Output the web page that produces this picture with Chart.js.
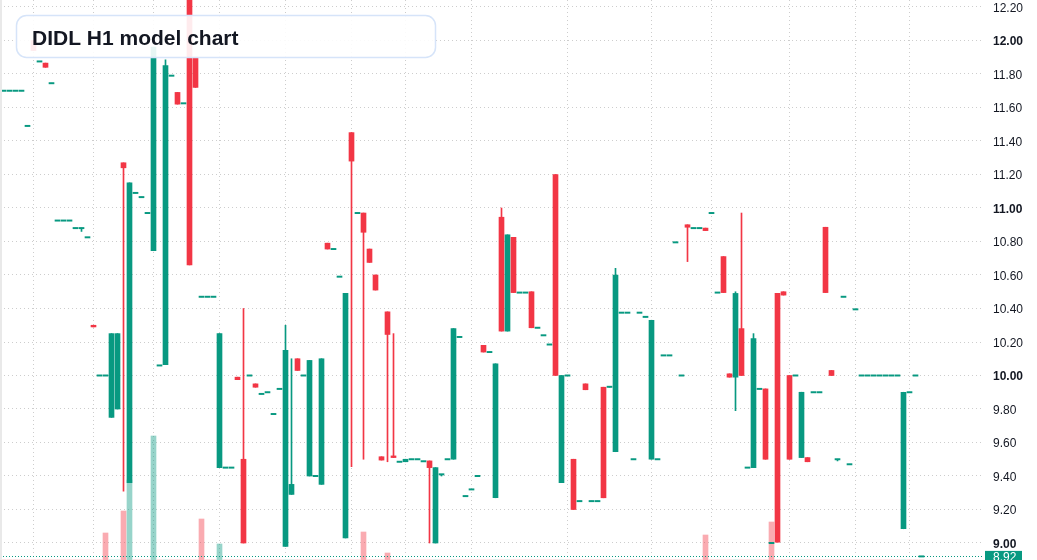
<!DOCTYPE html>
<html>
<head>
<meta charset="utf-8">
<script src="https://cdn.jsdelivr.net/npm/chart.js@4.4.1/dist/chart.umd.min.js"></script>
<style>
html,body{margin:0;padding:0;background:#fff;overflow:hidden}
#wrap{position:relative;width:1037px;height:560px}
</style>
</head>
<body>
<div id="wrap"><canvas id="c"></canvas></div>
<script>
// ---------- data ----------
const chartTitle = 'DIDL H1 model chart';

const openP = [
 11.70,11.70,11.70,11.70,11.49,12.00,11.875,11.865,11.745,10.925,
 10.925,10.925,10.88,10.88,10.825,10.30,10.00,10.00,9.75,9.80,
 11.27,9.36,11.09,11.065,10.97,10.745,10.06,10.065,11.79,11.69,
 11.625,12.30,11.90,10.47,10.47,10.47,9.45,9.45,9.45,9.99,
 9.50,10.00,9.95,9.89,9.90,9.77,9.92,8.98,9.29,10.10,
 10.00,9.40,9.40,9.35,10.79,10.755,10.59,9.03,11.45,10.97,
 10.97,10.755,10.60,9.515,10.38,9.52,9.485,9.485,9.50,9.50,
 9.488,9.49,9.00,9.41,9.50,9.50,10.23,9.28,9.32,9.40,
 10.18,10.14,9.27,10.945,10.265,10.825,10.495,10.495,10.50,10.285,
 10.24,10.185,11.20,9.36,10.00,9.50,9.25,9.95,9.25,9.25,
 9.93,9.93,9.545,10.375,10.375,9.50,10.375,10.35,9.50,9.50,
 10.12,10.12,10.795,10.00,10.90,10.88,10.88,10.88,10.97,10.495,
 10.71,10.01,9.99,10.28,9.45,9.45,9.92,9.92,9.00,10.49,
 10.50,10.00,10.00,9.51,9.51,9.90,9.90,10.885,10.03,9.50,
 10.47,9.47,10.395,10.00,10.00,10.00,10.00,10.00,10.00,10.00,
 9.085,9.90,10.00,8.92
];
const highP = [
 11.70,11.70,11.70,11.70,11.49,12.00,11.875,11.865,11.745,10.925,
 10.925,10.925,10.88,10.88,10.825,10.30,10.00,10.00,10.25,10.25,
 11.27,11.15,11.09,11.065,10.97,11.96,10.06,11.885,11.79,11.69,
 11.625,12.30,11.90,10.47,10.47,10.47,10.25,9.45,9.45,9.99,
 10.40,10.00,9.95,9.89,9.90,9.77,9.92,10.30,10.10,10.10,
 10.00,10.09,9.40,10.10,10.79,10.755,10.59,10.49,11.45,10.97,
 10.97,10.755,10.60,9.515,10.38,10.25,9.485,9.50,9.50,9.50,
 9.488,9.49,9.45,9.41,9.50,10.28,10.23,9.28,9.32,9.40,
 10.18,10.14,10.07,11.00,10.84,10.825,10.495,10.495,10.50,10.285,
 10.24,10.185,11.20,10.00,10.00,9.50,9.25,9.95,9.25,9.25,
 9.93,9.935,10.64,10.375,10.375,9.50,10.375,10.35,10.33,9.50,
 10.12,10.12,10.795,10.00,10.90,10.88,10.88,10.88,10.97,10.495,
 10.71,10.01,10.50,10.97,9.45,10.25,9.92,9.92,9.00,10.49,
 10.50,10.00,10.00,9.90,9.51,9.90,9.90,10.885,10.03,9.50,
 10.47,9.47,10.395,10.00,10.00,10.00,10.00,10.00,10.00,10.00,
 9.90,9.90,10.00,8.92
];
const lowP = [
 11.70,11.70,11.70,11.70,11.49,11.94,11.875,11.84,11.745,10.925,
 10.925,10.925,10.88,10.86,10.825,10.29,10.00,10.00,9.75,9.80,
 9.31,9.36,11.09,11.065,10.97,10.745,10.06,10.065,11.79,11.62,
 11.625,10.66,11.72,10.47,10.47,10.47,9.45,9.45,9.45,9.975,
 9.00,10.00,9.93,9.89,9.90,9.77,9.92,8.98,9.29,10.03,
 10.00,9.40,9.40,9.35,10.755,10.755,10.59,9.03,9.455,10.97,
 9.50,10.675,10.51,9.495,9.485,9.51,9.485,9.485,9.50,9.50,
 9.488,9.00,9.00,9.40,9.50,9.50,10.23,9.28,9.32,9.40,
 10.14,10.14,9.27,10.265,10.265,10.495,10.495,10.495,10.285,10.285,
 10.24,10.185,10.00,9.36,10.00,9.20,9.25,9.915,9.25,9.25,
 9.27,9.93,9.545,10.375,10.375,9.50,10.375,10.35,9.50,9.50,
 10.12,10.12,10.795,10.00,10.68,10.88,10.88,10.865,10.97,10.495,
 10.495,9.99,9.79,10.00,9.45,9.45,9.92,9.50,9.00,9.005,
 10.48,9.50,10.00,9.51,9.485,9.90,9.90,10.495,10.00,9.49,
 10.47,9.47,10.395,10.00,10.00,10.00,10.00,10.00,10.00,10.00,
 9.085,9.90,10.00,8.92
];
const closeP = [
 11.70,11.70,11.70,11.70,11.49,11.94,11.875,11.84,11.745,10.925,
 10.925,10.925,10.88,10.88,10.825,10.29,10.00,10.00,10.25,10.25,
 11.24,11.15,11.09,11.065,10.97,11.96,10.06,11.85,11.79,11.62,
 11.625,10.66,11.72,10.47,10.47,10.47,10.25,9.45,9.45,9.975,
 9.00,10.00,9.93,9.89,9.90,9.77,9.92,10.15,9.35,10.03,
 10.00,10.09,9.40,10.10,10.755,10.755,10.59,10.49,11.28,10.97,
 10.855,10.675,10.51,9.495,10.245,9.51,9.485,9.50,9.50,9.50,
 9.488,9.45,9.45,9.41,9.50,10.28,10.23,9.28,9.32,9.40,
 10.14,10.14,10.07,10.265,10.84,10.495,10.495,10.495,10.285,10.285,
 10.24,10.185,10.00,10.00,10.00,9.20,9.25,9.915,9.25,9.25,
 9.27,9.935,10.60,10.375,10.375,9.50,10.375,10.35,10.33,9.50,
 10.12,10.12,10.795,10.00,10.885,10.88,10.88,10.865,10.97,10.495,
 10.495,9.99,10.49,10.00,9.45,10.22,9.92,9.50,9.00,9.005,
 10.48,9.50,10.00,9.90,9.485,9.90,9.90,10.495,10.00,9.50,
 10.47,9.47,10.395,10.00,10.00,10.00,10.00,10.00,10.00,10.00,
 9.90,9.90,10.00,8.92
];
const volumeK = [
 0,0,0,0,0,0,0,0,0,0,
 0,0,0,0,0,0,0,27,0,0,
 49,80,0,0,0,124,0,0,0,0,
 0,0,0,41,0,0,16,0,0,0,
 0,0,0,0,0,0,0,0,0,0,
 0,0,0,0,0,0,0,0,0,0,
 28,0,0,0,7,0,0,0,0,0,
 0,0,0,0,0,0,0,0,0,0,
 0,0,0,0,0,0,0,0,0,0,
 0,0,0,0,0,0,0,0,0,0,
 0,0,0,0,0,0,0,0,0,0,
 0,0,0,0,0,0,0,25,0,0,
 0,0,0,0,0,0,0,0,38,0,
 0,0,0,0,0,0,0,0,0,0,
 0,0,0,0,0,0,0,0,0,0,
 0,0,0,0
];
const sessionBreaks = [5,15,25,36,47,58,67,78,94,108,118,131,142,151];
const priceTicks = ['9.00','9.20','9.40','9.60','9.80','10.00','10.20','10.40','10.60','10.80','11.00','11.20','11.40','11.60','11.80','12.00','12.20'];
const lastPrice = 8.92;
const lastPriceLabel = '8.92';

// ---------- styling ----------
const UP = '#089981', DOWN = '#f23645';
const UP_VOL = 'rgba(8,153,129,0.42)', DOWN_VOL = 'rgba(242,54,69,0.42)';
const FONT = '"Liberation Sans", Arial, sans-serif';
const AXIS_W = 54;
const CANVAS_W = 1037, CANVAS_H = 560;
const BAR_PX = 6;
const MIN_BODY_PX = 1.3;

const idx = closeP.map((_, i) => i);
const candleColor = idx.map(i => closeP[i] >= openP[i] ? UP : DOWN);
const volColor = idx.map(i => closeP[i] > openP[i] ? UP_VOL : DOWN_VOL);

const plotW = CANVAS_W - AXIS_W;
const xMin = -3.5 / BAR_PX;
const xMax = xMin + plotW / BAR_PX;
const pxPerUnit = 167.5;
const yMax = 12.2 + 7 / pxPerUnit;
const yMin = yMax - CANVAS_H / pxPerUnit;

// body range; very thin bodies are drawn as a centred 1.3px dash
function bodyRange(i) {
  const lo = Math.min(openP[i], closeP[i]);
  const hi = Math.max(openP[i], closeP[i]);
  const minSpan = MIN_BODY_PX / pxPerUnit;
  if (hi - lo >= minSpan) return [lo, hi];
  const mid = (lo + hi) / 2;
  return [mid - minSpan / 2, mid + minSpan / 2];
}

const overlay = {
  id: 'overlay',
  afterDatasetsDraw(chart) {
    const {ctx, chartArea: a, scales: {y}} = chart;
    const py = Math.round(y.getPixelForValue(lastPrice)) + 0.5;
    ctx.save();
    ctx.strokeStyle = UP;
    ctx.lineWidth = 1;
    ctx.setLineDash([1, 2]);
    ctx.beginPath();
    ctx.moveTo(a.left, py);
    ctx.lineTo(a.right, py);
    ctx.stroke();
    ctx.restore();
  },
  afterDraw(chart) {
    const {ctx, chartArea: a, scales: {y}} = chart;
    const py = y.getPixelForValue(lastPrice);
    ctx.save();
    // left edge strip
    ctx.fillStyle = '#e9e9e9';
    ctx.fillRect(0, 0, 2, CANVAS_H);
    // last price tag
    ctx.fillStyle = UP;
    ctx.fillRect(a.right + 2, py - 5.5, 37, 15);
    ctx.fillStyle = '#ffffff';
    ctx.font = '12px ' + FONT;
    ctx.textAlign = 'left';
    ctx.textBaseline = 'middle';
    ctx.fillText(lastPriceLabel, a.right + 10, py + 1.5);
    // title box
    ctx.beginPath();
    ctx.roundRect(16.5, 15.5, 419, 42, 10);
    ctx.fillStyle = 'rgba(255,255,255,0.9)';
    ctx.fill();
    ctx.lineWidth = 1.5;
    ctx.strokeStyle = '#d6e4f9';
    ctx.stroke();
    ctx.fillStyle = '#131722';
    ctx.font = 'bold 21px ' + FONT;
    ctx.textBaseline = 'alphabetic';
    ctx.fillText(chartTitle, 32, 45);
    ctx.restore();
  }
};

const canvas = document.getElementById('c');
canvas.width = CANVAS_W; canvas.height = CANVAS_H;
canvas.style.width = CANVAS_W + 'px'; canvas.style.height = CANVAS_H + 'px';

new Chart(canvas, {
  type: 'bar',
  data: {
    datasets: [
      {
        label: 'volume',
        yAxisID: 'yv',
        data: idx.map(i => ({x: i, y: volumeK[i]})),
        backgroundColor: volColor,
        barThickness: 5,
        grouped: false,
        order: 3
      },
      {
        label: 'wick',
        data: idx.map(i => ({x: i, y: [lowP[i], highP[i]]})),
        backgroundColor: candleColor,
        barThickness: 1,
        grouped: false,
        order: 2
      },
      {
        label: 'body',
        data: idx.map(i => ({x: i, y: bodyRange(i)})),
        backgroundColor: candleColor,
        barThickness: 5,
        grouped: false,
        order: 1
      }
    ]
  },
  options: {
    responsive: false,
    animation: false,
    devicePixelRatio: 1,
    layout: {padding: 0},
    plugins: {legend: {display: false}, tooltip: {enabled: false}, title: {display: false}},
    datasets: {bar: {borderWidth: 0, borderSkipped: false}},
    scales: {
      x: {
        type: 'linear',
        offset: false,
        min: xMin,
        max: xMax,
        grid: {offset: false, color: '#cdcdcd', lineWidth: 1, drawTicks: false},
        border: {display: false, dash: [1, 3]},
        ticks: {display: false},
        afterBuildTicks: s => { s.ticks = sessionBreaks.map(v => ({value: v})); },
        afterFit: s => { s.height = 0; s.paddingLeft = 0; s.paddingRight = 0; }
      },
      y: {
        type: 'linear',
        position: 'right',
        min: yMin,
        max: yMax,
        grid: {color: '#cdcdcd', lineWidth: 1, drawTicks: false},
        border: {display: false, dash: [1, 3]},
        ticks: {
          padding: 10,
          labelOffset: 1.5,
          color: '#131722',
          font: ctx => ({family: FONT, size: 12, weight: (ctx.tick && Math.abs(ctx.tick.value - Math.round(ctx.tick.value)) < 1e-6) ? 'bold' : 'normal'}),
          callback: (v, i) => priceTicks[i]
        },
        afterBuildTicks: s => { s.ticks = priceTicks.map(t => ({value: parseFloat(t)})); },
        afterFit: s => { s.width = AXIS_W; s.paddingTop = 0; s.paddingBottom = 0; }
      },
      yv: {
        type: 'linear',
        display: false,
        min: 0,
        max: CANVAS_H
      }
    }
  },
  plugins: [overlay]
});
</script>
</body>
</html>
